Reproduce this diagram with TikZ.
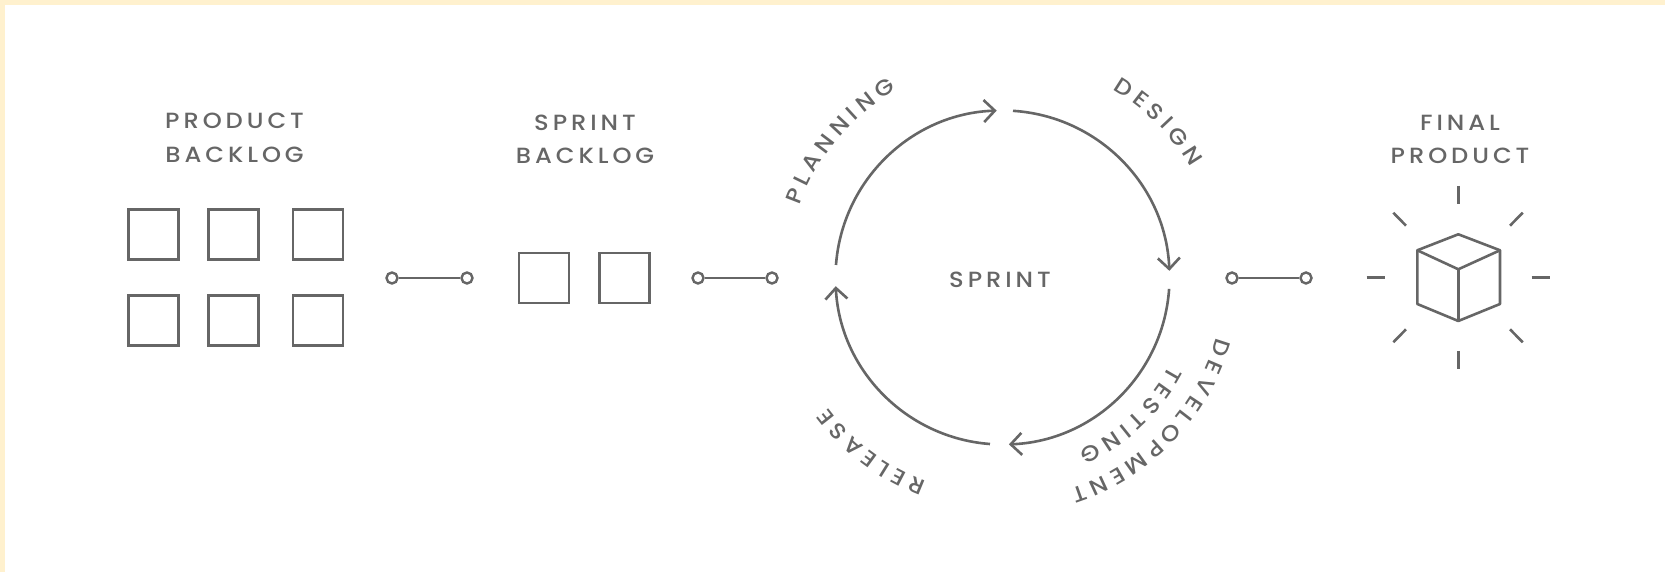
\documentclass[tikz,border=0pt]{standalone}
\usepackage{fontspec}
\usetikzlibrary{arrows.meta,decorations.text,calc}
\newfontfamily\lab[LetterSpace=18,FakeStretch=1.1]{Poppins Medium}
\newfontfamily\labc[FakeStretch=1.1]{Poppins Medium}
\definecolor{ink}{HTML}{666666}
\definecolor{cream}{HTML}{FFF1CE}
\tikzset{
  ln/.style={draw=ink,line width=2.6pt},
  sq/.style={ln,rectangle,minimum size=50pt,inner sep=0pt},
  dot/.style={draw=ink,line width=2.4pt,circle,minimum size=11pt,inner sep=0pt},
  cyc/.style={draw=ink,line width=2.6pt,-{Straight Barb[length=11pt,width=22pt,line width=2.6pt]}},
  ttl/.style={text=ink,align=center,inner sep=0pt,font=\lab\fontsize{22}{33.5}\selectfont},
  ray/.style={draw=ink,line width=2.6pt},
  cv/.style={decorate,decoration={text effects along path,text={#1},text align=center,
    text effects/.cd,text along path,
    characters={text=ink,font=\labc\fontsize{22}{24}\selectfont,inner xsep=2.5pt},
    character widths={font=\labc\fontsize{22}{24}\selectfont,inner xsep=2.5pt}}}
}
\begin{document}
\begin{tikzpicture}[x=1pt,y=1pt]
\useasboundingbox (0,0) rectangle (1665,572);
\fill[cream] (0,0) rectangle (1665,572);
\fill[white] (5,0) rectangle (1665,566.5);
\coordinate (c) at (1002.5,294.5);

\node[ttl] (t1) at (234.5,434) {PRODUCT\\BACKLOG};
\node[ttl] (t2) at (585,432.5) {SPRINT\\BACKLOG};
\node[ttl] (t3) at (1460,432.5) {FINAL\\PRODUCT};
\node[text=ink,inner sep=0pt,font=\lab\fontsize{22}{24}\selectfont] (t4) at (1000,292.5) {SPRINT};

\node[sq] (a1) at (153.3,337.5) {};
\node[sq] (a2) at (233.7,337.5) {};
\node[sq] (a3) at (318,337.5) {};
\node[sq] (a4) at (153.3,251.5) {};
\node[sq] (a5) at (233.7,251.5) {};
\node[sq] (a6) at (318,251.5) {};
\node[sq] (b1) at (544,294) {};
\node[sq] (b2) at (624.5,294) {};

\node[dot] (d1) at (392,294) {};
\node[dot] (d2) at (467,294) {};
\node[dot] (d3) at (698,294) {};
\node[dot] (d4) at (772,294) {};
\node[dot] (d5) at (1232,294) {};
\node[dot] (d6) at (1306,294) {};
\draw[ln] (d1) -- (d2);
\draw[ln] (d3) -- (d4);
\draw[ln] (d5) -- (d6);

\draw[cyc] ($(c)+(175.7:167)$) arc[start angle=175.7,end angle=92,radius=167];
\draw[cyc] ($(c)+(86.4:167)$) arc[start angle=86.4,end angle=2.3,radius=167];
\draw[cyc] ($(c)+(-3.9:167)$) arc[start angle=-3.9,end angle=-87.8,radius=167];
\draw[cyc] ($(c)+(-94.3:167)$) arc[start angle=-94.3,end angle=-177,radius=167];

\path[cv={PLANNING}] ($(c)+(195:215)$) arc[start angle=195,end angle=85,radius=215];
\path[cv={DESIGN}] ($(c)+(100:218)$) arc[start angle=100,end angle=-10,radius=218];
\path[cv={DEVELOPMENT}] ($(c)+(10:222)$) arc[start angle=10,end angle=-98,radius=222];
\path[cv={TESTING}] ($(c)+(-2:189)$) arc[start angle=-2,end angle=-92,radius=189];
\path[cv={RELEASE}] ($(c)+(-72:218)$) arc[start angle=-72,end angle=-182,radius=218];

% cube
\coordinate (kt) at (1458.3,337.7);
\coordinate (kl) at (1417.3,321.7);
\coordinate (kr) at (1500,321.7);
\coordinate (km) at (1458.3,302.7);
\coordinate (kb) at (1458.3,251);
\coordinate (kbl) at (1417.3,268);
\coordinate (kbr) at (1500,268);
\draw[ln,line join=round] (kt) -- (kr) -- (kbr) -- (kb) -- (kbl) -- (kl) -- cycle;
\draw[ln,line join=round] (kl) -- (km) -- (kr);
\draw[ln] (km) -- (kb);
% rays
\draw[ray] (1458.3,386) -- (1458.3,367.7);
\draw[ray] (1458.3,221) -- (1458.3,202.7);
\draw[ray] (1366.7,294.7) -- (1385,294.7);
\draw[ray] (1531.7,294.7) -- (1550,294.7);
\draw[ray] (1393.3,359.3) -- (1406,346.3);
\draw[ray] (1522.7,359.3) -- (1510,346.3);
\draw[ray] (1393.3,229.7) -- (1406,242.7);
\draw[ray] (1522.7,229.7) -- (1510,242.7);
\end{tikzpicture}
\end{document}
